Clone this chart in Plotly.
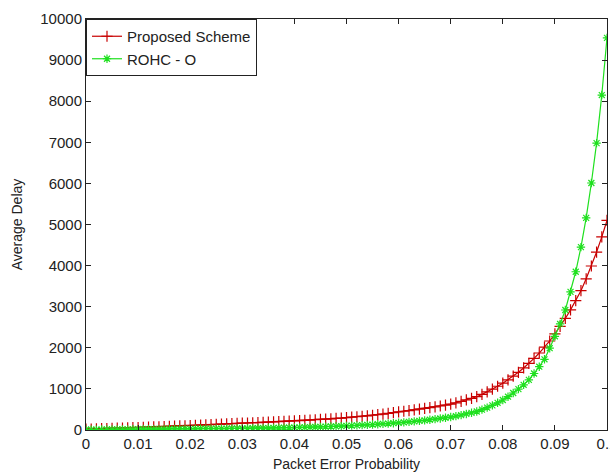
import plotly.graph_objects as go

# Packet error probability 0 .. 0.1 step 0.001
p_error = [i / 1000 for i in range(101)]

proposed_delay = [
    20, 24, 28, 32, 36, 40, 44, 48, 52, 56, 60,
    64, 69, 74, 79, 84, 89, 94, 99, 104, 110,
    115, 120, 126, 131, 137, 142, 148, 153, 159, 165,
    170, 176, 181, 187, 193, 198, 204, 209, 215, 220,
    227, 234, 241, 249, 257, 265, 273, 281, 290, 300,
    311, 322, 334, 346, 359, 373, 388, 404, 421, 440,
    456, 472, 489, 507, 525, 544, 563, 584, 605, 630,
    662, 697, 733, 771, 810,
    867, 929, 994, 1064, 1140,
    1222, 1310, 1404, 1510, 1620,
    1742, 1873, 2014, 2166, 2340,
    2520, 2714, 2923, 3148, 3390,
    3678, 3990, 4330, 4698, 5100,
]

rohc_delay = [
    8, 9, 10, 11, 12, 13, 14, 15, 16, 17, 18,
    19, 20, 21, 22, 23, 24, 25, 26, 27, 28,
    29, 30, 31, 32, 33, 34, 35, 36, 37, 38,
    40, 42, 44, 46, 48, 50, 52, 55, 57, 60,
    63, 66, 70, 73, 77, 81, 85, 90, 95, 100,
    106, 112, 118, 125, 132, 140, 148, 157, 166, 175,
    186, 197, 209, 222, 235, 250, 265, 281, 298, 315,
    338, 362, 390, 418, 450,
    495, 545, 600, 662, 730,
    810, 900, 995, 1100, 1220,
    1375, 1540, 1720, 1990, 2280,
    2580, 2920, 3360, 3850, 4450,
    5160, 6010, 6980, 8150, 9540,
]

x_ticks = [0, 0.01, 0.02, 0.03, 0.04, 0.05, 0.06, 0.07, 0.08, 0.09, 0.1]
x_tick_labels = ["0", "0.01", "0.02", "0.03", "0.04", "0.05", "0.06", "0.07", "0.08", "0.09", "0.1"]
y_ticks = [0, 1000, 2000, 3000, 4000, 5000, 6000, 7000, 8000, 9000, 10000]

RED = "#c80000"
GREEN = "#1ee01e"
FONT = "Liberation Sans, Arial, sans-serif"
INK = "#222222"

fig = go.Figure()
fig.add_trace(go.Scatter(
    x=p_error, y=proposed_delay, name="Proposed Scheme",
    mode="lines+markers",
    line=dict(color=RED, width=1.2),
    marker=dict(symbol="cross-thin", size=8, color=RED, line=dict(color=RED, width=1.2)),
))
fig.add_trace(go.Scatter(
    x=p_error, y=rohc_delay, name="ROHC - O",
    mode="lines+markers",
    line=dict(color=GREEN, width=1.2),
    marker=dict(symbol="asterisk", size=7, color=GREEN, line=dict(color=GREEN, width=1.2)),
))

axis_common = dict(
    showgrid=False, zeroline=False, showline=True, linecolor=INK, linewidth=1,
    mirror="ticks", ticks="inside", ticklen=5, tickcolor=INK,
    tickfont=dict(family=FONT, size=15, color=INK),
    ticklabeloverflow="allow",
)

fig.update_layout(
    width=610, height=475,
    margin=dict(l=86, r=3, t=19, b=45),
    paper_bgcolor="white", plot_bgcolor="white",
    font=dict(family=FONT, size=15, color=INK),
    showlegend=True,
    legend=dict(
        x=0, y=1, xanchor="left", yanchor="top",
        bgcolor="white", bordercolor=INK, borderwidth=1,
        font=dict(family=FONT, size=15, color=INK),
        tracegroupgap=0,
    ),
    xaxis=dict(
        range=[0, 0.1], tickvals=x_ticks, ticktext=x_tick_labels,
        title=dict(text="Packet Error Probability", font=dict(family=FONT, size=14, color=INK), standoff=8),
        automargin=False,
        **axis_common,
    ),
    yaxis=dict(
        range=[0, 10000], tickvals=y_ticks, ticktext=[str(v) for v in y_ticks],
        title=dict(text="Average Delay", font=dict(family=FONT, size=14, color=INK), standoff=14),
        automargin=False,
        **axis_common,
    ),
)

fig.write_html(
    "out.html",
    config={"displayModeBar": False},
    post_script="document.body.style.margin='0';document.body.style.overflow='hidden';",
)
